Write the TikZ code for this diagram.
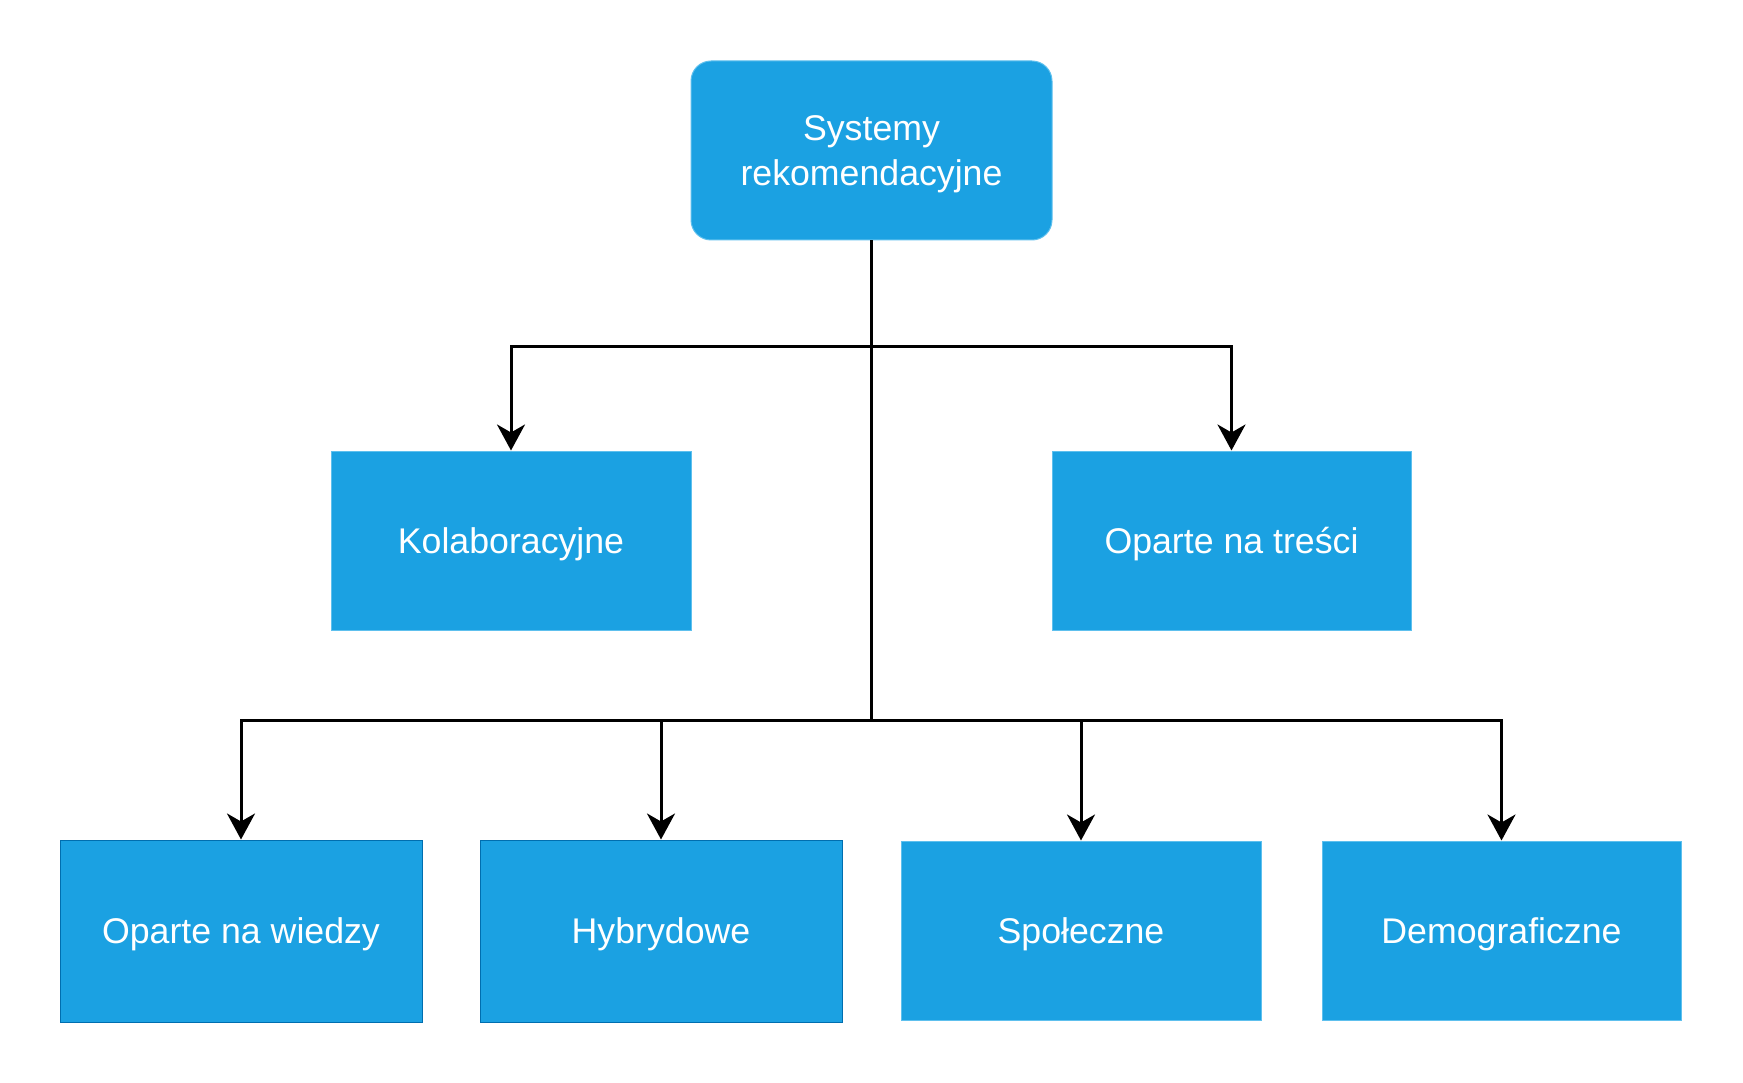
\documentclass[tikz,border=0pt]{standalone}
\usepackage{fontspec}
\setmainfont{Liberation Sans}
\usetikzlibrary{arrows.meta}
\definecolor{boxfill}{HTML}{1BA1E2}
\definecolor{boxdark}{HTML}{006EAF}
\definecolor{boxlight}{HTML}{5EC0EE}
\begin{document}
\begin{tikzpicture}[x=1pt,y=-1pt,
  box/.style={fill=boxfill,draw=boxlight,line width=1pt,text=white,
    font=\fontsize{35.7}{45}\selectfont,align=center,inner sep=0pt,text depth=-1pt},
  conn/.style={line width=3pt,draw=black},
  arr/.style={conn,-{Stealth[length=26pt,width=28pt,inset=8pt]}}]
\useasboundingbox (0,0) rectangle (1743,1083);
\fill[white] (0,0) rectangle (1743,1083);
\node[box,rounded corners=20pt,minimum width=361pt,minimum height=179pt] (root) at (871.5,150.5) {Systemy\\rekomendacyjne};
\node[box,minimum width=360pt,minimum height=179pt] (kol) at (511,540.5) {Kolaboracyjne};
\node[box,minimum width=359pt,minimum height=179pt] (tresc) at (1231.5,540.5) {Oparte na treści};
\node[box,draw=boxdark,minimum width=362pt,minimum height=182pt] (wiedza) at (241,931) {Oparte na wiedzy};
\node[box,draw=boxdark,minimum width=362pt,minimum height=182pt] (hyb) at (661,931) {Hybrydowe};
\node[box,minimum width=360pt,minimum height=179pt] (spol) at (1081,930.5) {Społeczne};
\node[box,minimum width=359pt,minimum height=179pt] (demo) at (1501.5,930.5) {Demograficzne};
\coordinate (j1) at (871.5,346);
\coordinate (j2) at (871.5,720);
\draw[conn] (root.south) -- (j2);
\draw[arr] (j1) -| (kol.north);
\draw[arr] (j1) -| (tresc.north);
\draw[arr] (j2) -| (wiedza.north);
\draw[arr] (j2) -| (hyb.north);
\draw[arr] (j2) -| (spol.north);
\draw[arr] (j2) -| (demo.north);
\end{tikzpicture}
\end{document}
